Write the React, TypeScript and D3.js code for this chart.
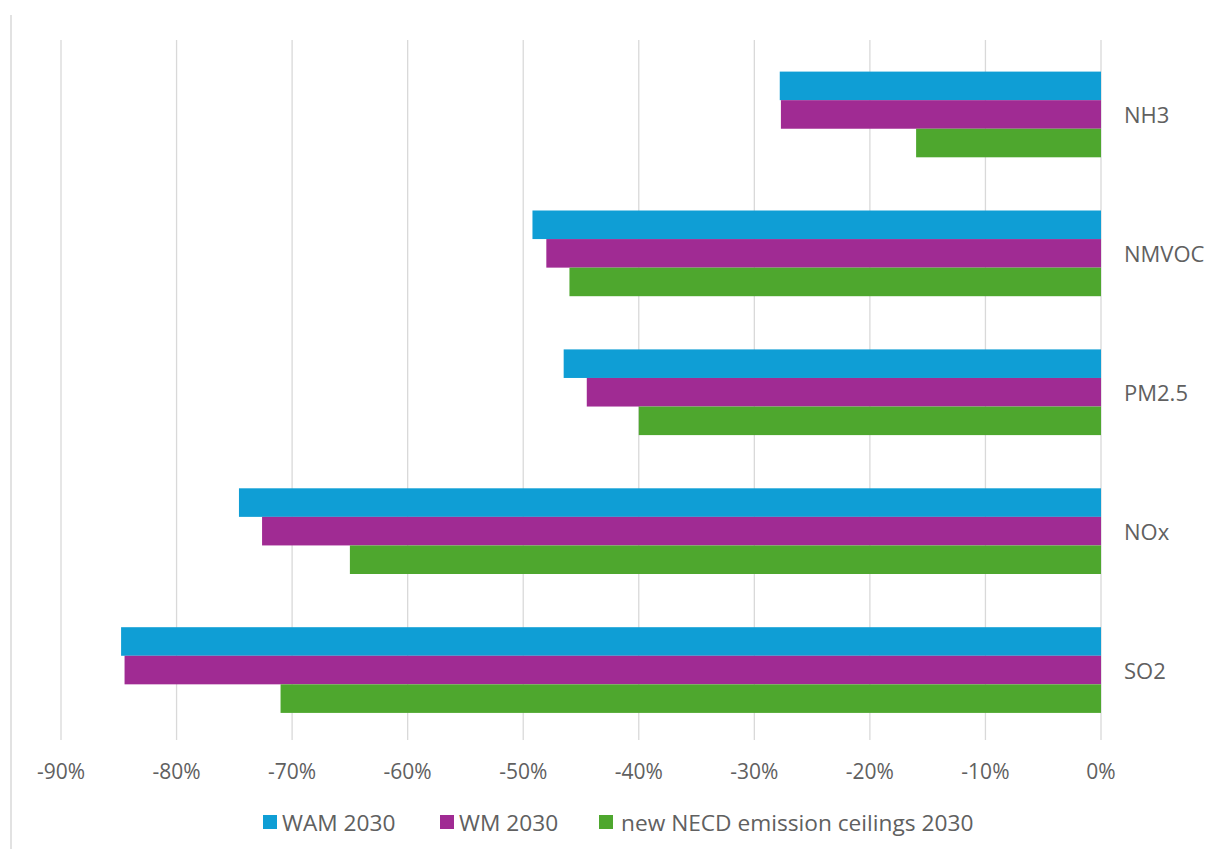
import React from "react";
import * as d3 from "d3";

const categories = ["NH3", "NMVOC", "PM2.5", "NOx", "SO2"];
const seriesNames = ["WAM 2030", "WM 2030", "new NECD emission ceilings 2030"];
const wam2030 = [-0.278, -0.492, -0.465, -0.746, -0.848];
const wm2030 = [-0.277, -0.48, -0.445, -0.726, -0.845];
const necd2030 = [-0.16, -0.46, -0.40, -0.65, -0.71];
const seriesValues = [wam2030, wm2030, necd2030];
const seriesColors = ["#0F9ED5", "#A02B93", "#4EA72E"];
const tickValues = [-0.9, -0.8, -0.7, -0.6, -0.5, -0.4, -0.3, -0.2, -0.1, 0];

const W = 1211;
const H = 849;
const FONT = "'Open Sans', 'DejaVu Sans', sans-serif";
const TEXT = "#606060";
const GRID = "#d9d9d9";

export default function App() {
  const x = d3.scaleLinear().domain([-0.9, 0]).range([61, 1101]);
  const y = d3.scaleBand<string>().domain(categories).range([45, 739.5]).paddingInner(0.383).paddingOuter(0.1915);
  const ySub = d3.scaleBand<number>().domain([0, 1, 2]).range([0, y.bandwidth()]);
  const fmt = d3.format(".0%");

  const legendItems = [
    { sq: 263, tx: 282 },
    { sq: 440, tx: 459 },
    { sq: 599, tx: 621 },
  ];

  return (
    <svg width={W} height={H} style={{ position: "absolute", left: 0, top: 0, display: "block", background: "#fff" }}>
      <rect x={0} y={0} width={W} height={H} fill="#fff" />
      <line x1={11} x2={11} y1={15} y2={H} stroke={GRID} strokeWidth={1.5} />
      {tickValues.map((t) => (
        <g key={t}>
          <line x1={x(t)} x2={x(t)} y1={40} y2={740} stroke={GRID} strokeWidth={1.3} />
          <text x={x(t)} y={771} textAnchor="middle" dominantBaseline="central" fontFamily={FONT} fontSize={21} fill={TEXT}>
            {fmt(t).replace("−", "-")}
          </text>
        </g>
      ))}
      {categories.map((c, ci) => (
        <g key={c}>
          {seriesValues.map((vals, si) => (
            <rect
              key={si}
              x={x(vals[ci])}
              y={(y(c) as number) + (ySub(si) as number)}
              width={x(0) - x(vals[ci])}
              height={ySub.bandwidth()}
              fill={seriesColors[si]}
            />
          ))}
          <text x={1124} y={(y(c) as number) + y.bandwidth() / 2} dominantBaseline="central" fontFamily={FONT} fontSize={22} fill={TEXT}>
            {c}
          </text>
        </g>
      ))}
      {seriesNames.map((n, i) => (
        <g key={n}>
          <rect x={legendItems[i].sq} y={815} width={14} height={14} fill={seriesColors[i]} />
          <text x={legendItems[i].tx} y={822} dominantBaseline="central" fontFamily={FONT} fontSize={22.7} fill={TEXT}>
            {n}
          </text>
        </g>
      ))}
    </svg>
  );
}
